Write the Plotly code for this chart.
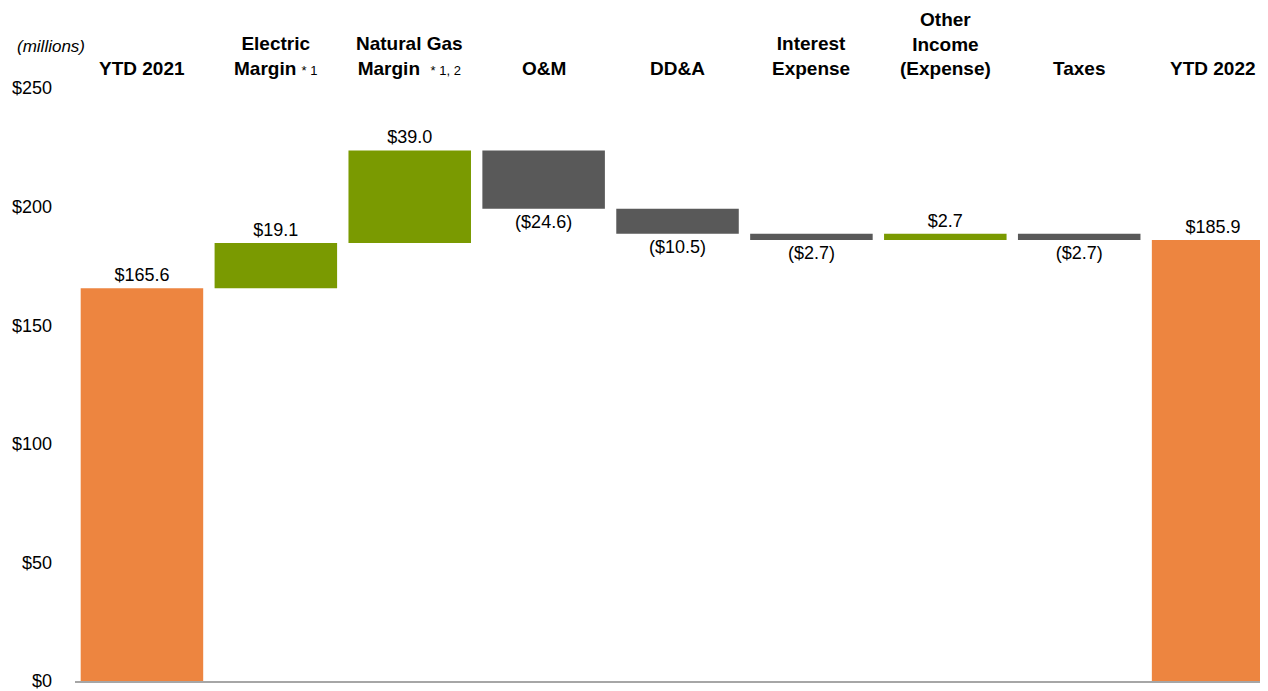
import plotly.graph_objects as go

ORANGE = '#ED8540'
GREEN = '#7A9A01'
GRAY = '#595959'
TEXT = '#000000'
FONT = 'Arial, Liberation Sans, sans-serif'

categories = ['YTD 2021', 'Electric Margin', 'Natural Gas Margin', 'O&M', 'DD&A',
              'Interest Expense', 'Other Income (Expense)', 'Taxes', 'YTD 2022']
headers = ['YTD 2021',
           'Electric<br>Margin <span style="font-size:13px; font-weight:normal">* 1</span>',
           'Natural Gas<br>Margin  <span style="font-size:13px; font-weight:normal">* 1, 2</span>',
           'O&M', 'DD&A', 'Interest<br>Expense', 'Other<br>Income<br>(Expense)',
           'Taxes', 'YTD 2022']
values = [165.6, 19.1, 39.0, -24.6, -10.5, -2.7, 2.7, -2.7, 185.9]
measures = ['absolute', 'relative', 'relative', 'relative', 'relative',
            'relative', 'relative', 'relative', 'total']
y_ticks = [0, 50, 100, 150, 200, 250]


def money(v):
    return f'${v:.1f}' if v >= 0 else f'(${-v:.1f})'


labels = [money(v) for v in values]

fig = go.Figure(go.Waterfall(
    x=categories, y=values, measure=measures,
    text=labels, textposition='outside', textfont=dict(size=18, color=TEXT),
    increasing=dict(marker=dict(color=GREEN)),
    decreasing=dict(marker=dict(color=GRAY)),
    totals=dict(marker=dict(color=ORANGE)),
    connector=dict(visible=False),
    cliponaxis=False,
))

# column headers above the plot
for cat, h in zip(categories, headers):
    fig.add_annotation(x=cat, y=1, xref='x', yref='paper', yanchor='bottom',
                       yshift=7, text=f'<b>{h}</b>', showarrow=False,
                       font=dict(size=19, color=TEXT))

fig.add_annotation(x=0, y=1, xref='paper', yref='paper', xanchor='left',
                   yanchor='bottom', yshift=30, xshift=-60,
                   text='<i>(millions)</i>', showarrow=False,
                   font=dict(size=17, color=TEXT))

fig.update_layout(
    width=1260, height=683,
    paper_bgcolor='white', plot_bgcolor='white',
    font=dict(family=FONT, color=TEXT, size=18),
    margin=dict(l=67, r=0, t=80, b=7),
    showlegend=False, waterfallgap=0.085,
    xaxis=dict(range=[-0.5, 8.41], showticklabels=False, showgrid=False,
               showline=True, linecolor='#A6A6A6', linewidth=2, ticks=''),
    yaxis=dict(range=[0, 250], tickvals=y_ticks,
               ticktext=[f'${t}' for t in y_ticks], showgrid=False,
               zeroline=False, showline=False, ticklabelstandoff=22,
               ticklabeloverflow='allow', tickfont=dict(size=18, color=TEXT)),
)

fig.write_html('out.html')
